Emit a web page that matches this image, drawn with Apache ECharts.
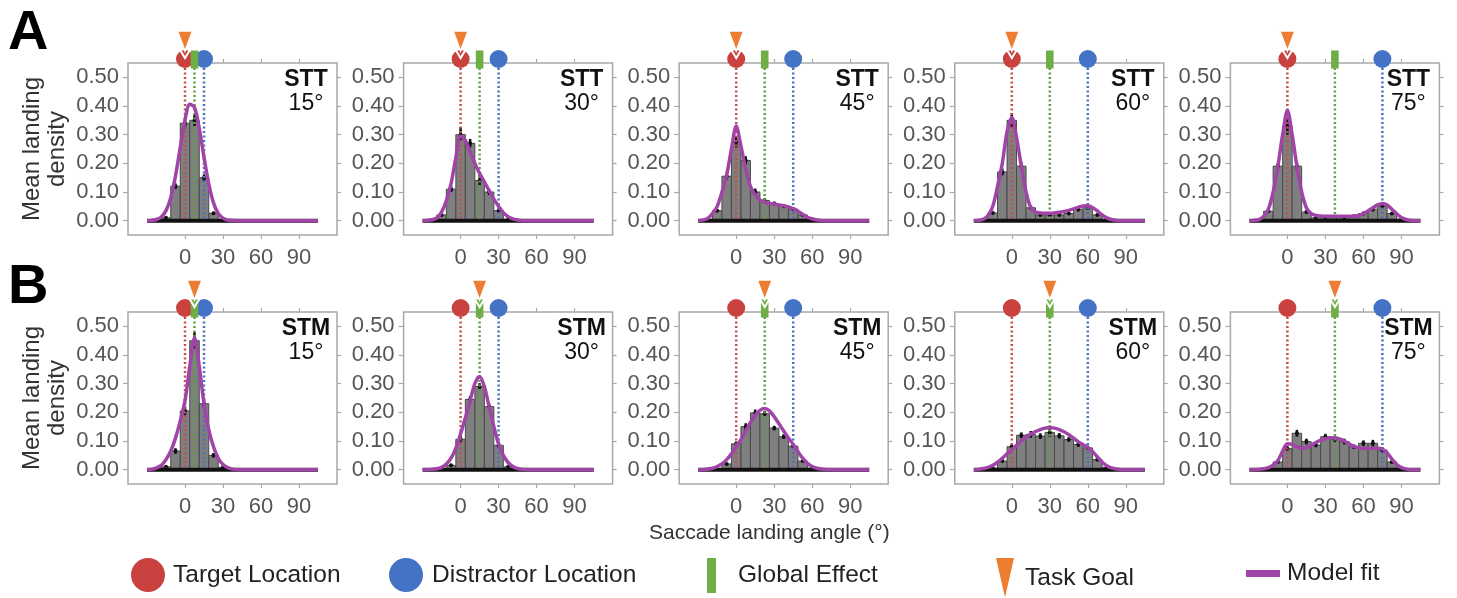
<!DOCTYPE html>
<html><head><meta charset="utf-8">
<script src="https://cdn.jsdelivr.net/npm/echarts@6/dist/echarts.min.js"></script>
<style>html,body{margin:0;padding:0;background:#fff}#c{width:1457px;height:598px}</style>
</head><body><div id="c"></div>
<script>
// ---------------- data ----------------
const ROW_LETTERS = ['A', 'B'];
const CONDITIONS = ['STT', 'STM'];
const ANGLES = [15, 30, 45, 60, 75];
const TARGET_LOC = [0, 0, 0, 0, 0];
const DISTRACTOR_LOC = [15, 30, 45, 60, 75];
const GLOBAL_EFFECT_LOC = [7.5, 15, 22.5, 30, 37.5];
const TASK_GOAL_STT = [0, 0, 0, 0, 0];
const TASK_GOAL_STM = [7.5, 15, 22.5, 30, 37.5];
const X_TICKS = [0, 30, 60, 90];
const Y_TICKS = [0, 0.1, 0.2, 0.3, 0.4, 0.5];
const BASELINE_X = [-30, 105];
const BIN_WIDTH = 7.5;
const BIN_X = [-22.5, -15, -7.5, 0, 7.5, 15, 22.5, 30, 37.5, 45, 52.5, 60, 67.5, 75, 82.5, 90];
const FIT_X = [-30, -26.25, -22.5, -18.75, -15, -11.25, -7.5, -3.75, 0, 3.75, 7.5, 11.25, 15, 18.75, 22.5, 26.25, 30, 33.75, 37.5, 41.25, 45, 48.75, 52.5, 56.25, 60, 63.75, 67.5, 71.25, 75, 78.75, 82.5, 86.25, 90, 93.75, 97.5, 101.25, 105];

const STT15_BARS = [0, 0.01, 0.12, 0.34, 0.35, 0.15, 0.026, 0.005, 0, 0, 0, 0, 0, 0, 0, 0];
const STT30_BARS = [0, 0.02, 0.11, 0.30, 0.27, 0.14, 0.10, 0.035, 0.005, 0, 0, 0, 0, 0, 0, 0];
const STT45_BARS = [0.005, 0.035, 0.155, 0.275, 0.21, 0.10, 0.07, 0.06, 0.05, 0.04, 0.02, 0.005, 0, 0, 0, 0];
const STT60_BARS = [0.003, 0.027, 0.17, 0.35, 0.19, 0.045, 0.02, 0.02, 0.02, 0.025, 0.04, 0.045, 0.02, 0.005, 0, 0];
const STT75_BARS = [0.003, 0.033, 0.19, 0.33, 0.19, 0.03, 0.01, 0.01, 0.01, 0.01, 0.015, 0.025, 0.04, 0.05, 0.025, 0.005];
const STM15_BARS = [0, 0.01, 0.065, 0.205, 0.45, 0.23, 0.05, 0.008, 0, 0, 0, 0, 0, 0, 0, 0];
const STM30_BARS = [0, 0.003, 0.015, 0.106, 0.245, 0.29, 0.22, 0.085, 0.01, 0, 0, 0, 0, 0, 0, 0];
const STM45_BARS = [0, 0.003, 0.02, 0.09, 0.15, 0.198, 0.195, 0.145, 0.115, 0.082, 0.03, 0.005, 0, 0, 0, 0];
const STM60_BARS = [0, 0.005, 0.03, 0.08, 0.12, 0.123, 0.117, 0.13, 0.118, 0.105, 0.088, 0.076, 0.035, 0.008, 0, 0];
const STM75_BARS = [0, 0.005, 0.027, 0.074, 0.127, 0.098, 0.086, 0.115, 0.106, 0.098, 0.08, 0.092, 0.092, 0.068, 0.027, 0.005];

const STT15_SE = [0, 0.003, 0.01, 0.015, 0.02, 0.012, 0.005, 0, 0, 0, 0, 0, 0, 0, 0, 0];
const STT30_SE = [0, 0.004, 0.01, 0.025, 0.015, 0.02, 0.01, 0.006, 0, 0, 0, 0, 0, 0, 0, 0];
const STT45_SE = [0, 0.005, 0.012, 0.02, 0.015, 0.012, 0.008, 0.006, 0.006, 0.006, 0.004, 0, 0, 0, 0, 0];
const STT60_SE = [0, 0.004, 0.012, 0.025, 0.015, 0.008, 0.004, 0.004, 0.004, 0.005, 0.008, 0.008, 0.004, 0, 0, 0];
const STT75_SE = [0, 0.004, 0.012, 0.03, 0.015, 0.006, 0.003, 0.003, 0.003, 0.003, 0.004, 0.006, 0.008, 0.008, 0.005, 0];
const STM15_SE = [0, 0.003, 0.01, 0.015, 0.03, 0.015, 0.008, 0.003, 0, 0, 0, 0, 0, 0, 0, 0];
const STM30_SE = [0, 0, 0.004, 0.01, 0.012, 0.012, 0.01, 0.008, 0.003, 0, 0, 0, 0, 0, 0, 0];
const STM45_SE = [0, 0, 0.004, 0.008, 0.012, 0.012, 0.01, 0.008, 0.008, 0.006, 0.004, 0, 0, 0, 0, 0];
const STM60_SE = [0, 0, 0.005, 0.008, 0.01, 0.012, 0.01, 0.015, 0.01, 0.008, 0.008, 0.008, 0.005, 0.002, 0, 0];
const STM75_SE = [0, 0, 0.005, 0.008, 0.012, 0.01, 0.008, 0.01, 0.01, 0.01, 0.008, 0.01, 0.012, 0.01, 0.005, 0];

const STT15_FIT = [0, 0.001, 0.004, 0.013, 0.035, 0.08, 0.156, 0.256, 0.351, 0.406, 0.395, 0.322, 0.221, 0.128, 0.062, 0.025, 0.009, 0.002, 0.001, 0, 0, 0, 0, 0, 0, 0, 0, 0, 0, 0, 0, 0, 0, 0, 0, 0, 0];
const STT30_FIT = [0, 0.001, 0.003, 0.01, 0.03, 0.07, 0.13, 0.22, 0.295, 0.28, 0.24, 0.2, 0.165, 0.135, 0.105, 0.075, 0.05, 0.028, 0.014, 0.006, 0.002, 0, 0, 0, 0, 0, 0, 0, 0, 0, 0, 0, 0, 0, 0, 0, 0];
const STT45_FIT = [0, 0.002, 0.008, 0.025, 0.05, 0.1, 0.16, 0.25, 0.33, 0.26, 0.18, 0.12, 0.09, 0.072, 0.065, 0.06, 0.058, 0.055, 0.052, 0.048, 0.042, 0.033, 0.022, 0.012, 0.006, 0.002, 0, 0, 0, 0, 0, 0, 0, 0, 0, 0, 0];
const STT60_FIT = [0, 0.001, 0.005, 0.018, 0.05, 0.12, 0.2, 0.31, 0.36, 0.29, 0.19, 0.1, 0.045, 0.03, 0.027, 0.026, 0.026, 0.027, 0.029, 0.032, 0.036, 0.041, 0.047, 0.051, 0.052, 0.046, 0.034, 0.02, 0.01, 0.004, 0.001, 0, 0, 0, 0, 0, 0];
const STT75_FIT = [0, 0.001, 0.004, 0.015, 0.04, 0.1, 0.19, 0.3, 0.385, 0.3, 0.19, 0.1, 0.045, 0.025, 0.018, 0.016, 0.015, 0.015, 0.015, 0.015, 0.015, 0.015, 0.015, 0.018, 0.025, 0.034, 0.045, 0.055, 0.06, 0.055, 0.04, 0.024, 0.011, 0.004, 0.001, 0, 0];
const STM15_FIT = [0, 0.001, 0.006, 0.015, 0.035, 0.065, 0.11, 0.17, 0.24, 0.36, 0.46, 0.36, 0.23, 0.14, 0.08, 0.04, 0.018, 0.007, 0.002, 0, 0, 0, 0, 0, 0, 0, 0, 0, 0, 0, 0, 0, 0, 0, 0, 0, 0];
const STM30_FIT = [0, 0, 0.001, 0.003, 0.008, 0.02, 0.04, 0.075, 0.125, 0.18, 0.24, 0.3, 0.325, 0.29, 0.22, 0.15, 0.09, 0.05, 0.025, 0.011, 0.004, 0.001, 0, 0, 0, 0, 0, 0, 0, 0, 0, 0, 0, 0, 0, 0, 0];
const STM45_FIT = [0, 0, 0.002, 0.005, 0.011, 0.02, 0.035, 0.055, 0.08, 0.105, 0.135, 0.165, 0.19, 0.207, 0.213, 0.205, 0.185, 0.16, 0.135, 0.11, 0.088, 0.063, 0.04, 0.022, 0.011, 0.005, 0.002, 0, 0, 0, 0, 0, 0, 0, 0, 0, 0];
const STM60_FIT = [0, 0.001, 0.004, 0.008, 0.015, 0.026, 0.04, 0.055, 0.07, 0.085, 0.1, 0.113, 0.124, 0.133, 0.14, 0.145, 0.147, 0.145, 0.14, 0.132, 0.122, 0.11, 0.097, 0.087, 0.077, 0.063, 0.045, 0.027, 0.014, 0.006, 0.002, 0, 0, 0, 0, 0, 0];
const STM75_FIT = [0, 0, 0.001, 0.003, 0.007, 0.016, 0.032, 0.065, 0.09, 0.088, 0.08, 0.075, 0.077, 0.085, 0.095, 0.103, 0.108, 0.111, 0.111, 0.107, 0.1, 0.09, 0.081, 0.076, 0.074, 0.074, 0.075, 0.075, 0.072, 0.058, 0.037, 0.018, 0.007, 0.002, 0, 0, 0];

const BARS = [[STT15_BARS, STT30_BARS, STT45_BARS, STT60_BARS, STT75_BARS], [STM15_BARS, STM30_BARS, STM45_BARS, STM60_BARS, STM75_BARS]];
const SES = [[STT15_SE, STT30_SE, STT45_SE, STT60_SE, STT75_SE], [STM15_SE, STM30_SE, STM45_SE, STM60_SE, STM75_SE]];
const FITS = [[STT15_FIT, STT30_FIT, STT45_FIT, STT60_FIT, STT75_FIT], [STM15_FIT, STM30_FIT, STM45_FIT, STM60_FIT, STM75_FIT]];
const GOALS = [TASK_GOAL_STT, TASK_GOAL_STM];

// ---------------- layout / style ----------------
const X_MIN = -45, X_MAX = 120, Y_MIN = -0.05, Y_MAX = 0.55;
const GRID_LEFT0 = 128, GRID_PITCH = 275.6, GRID_W = 209, GRID_H = 172;
const ROW_TOPS = [63, 312];
const FONT = "'Liberation Sans', Arial, sans-serif";
const C_RED = '#c9423f', C_BLUE = '#4472c4', C_GREEN = '#6fad46', C_ORANGE = '#ed7d31', C_PURPLE = '#a044a8';
const BORDER = '#a8a8a8';

const grids = [], xAxes = [], yAxes = [], series = [], graphics = [];

function barsRender(params, api) {
  const x = api.value(0), y = api.value(1);
  if (!(y > 0)) return;
  const p0 = api.coord([x - BIN_WIDTH / 2, y]);
  const p1 = api.coord([x + BIN_WIDTH / 2, 0]);
  return { type: 'rect', shape: { x: p0[0], y: p0[1], width: p1[0] - p0[0], height: p1[1] - p0[1] },
    style: { fill: '#7f7f7f', stroke: '#4a4a4a', lineWidth: 1 } };
}
function errRender(params, api) {
  const x = api.value(0), y = api.value(1), se = api.value(2);
  if (!(y > 0.004)) return;
  const a = api.coord([x, y - se]), b = api.coord([x, y + se]), m = api.coord([x, y]);
  return { type: 'group', children: [
    { type: 'line', shape: { x1: a[0], y1: a[1], x2: b[0], y2: b[1] }, style: { stroke: '#111', lineWidth: 2.5 } },
    { type: 'circle', shape: { cx: m[0], cy: m[1], r: 2 }, style: { fill: '#111' } }
  ] };
}
function dottedRender(color) {
  return function (params, api) {
    const x = api.value(0);
    const t = api.coord([x, Y_MAX]), b = api.coord([x, 0]);
    return { type: 'line', shape: { x1: t[0], y1: t[1] - 4, x2: b[0], y2: b[1] },
      style: { stroke: color, lineWidth: 2.5, lineDash: [2, 2.5] } };
  };
}
function circleRender(color) {
  return function (params, api) {
    const t = api.coord([api.value(0), Y_MAX]);
    return { type: 'circle', shape: { cx: t[0], cy: t[1] - 4, r: 9 }, style: { fill: color } };
  };
}
function rectRender(params, api) {
  const t = api.coord([api.value(0), Y_MAX]);
  return { type: 'rect', shape: { x: t[0] - 3.8, y: t[1] - 12.5, width: 7.6, height: 18 }, style: { fill: C_GREEN } };
}
function goalRender(params, api) {
  const t = api.coord([api.value(0), Y_MAX]);
  const px = t[0], top = t[1];
  return { type: 'group', children: [
    { type: 'polyline', shape: { points: [[px - 5.5, top - 14], [px, top - 5], [px + 5.5, top - 14]] },
      style: { stroke: '#fff', lineWidth: 2, fill: null } },
    { type: 'polygon', shape: { points: [[px - 7.5, top - 32], [px + 7.5, top - 32], [px, top - 12]] },
      style: { fill: C_ORANGE, stroke: '#fff', lineWidth: 1.5 } }
  ] };
}

let k = 0;
for (let r = 0; r < 2; r++) {
  for (let c = 0; c < 5; c++) {
    const left = GRID_LEFT0 + c * GRID_PITCH, top = ROW_TOPS[r];
    grids.push({ left: left, top: top, width: GRID_W, height: GRID_H, show: true, borderColor: BORDER, borderWidth: 1.5,
      backgroundColor: 'transparent', containLabel: false, outerBoundsMode: 'none' });
    const tickStyle = { color: BORDER, width: 1.2 };
    xAxes.push({ gridIndex: k, type: 'value', position: 'bottom', min: X_MIN, max: X_MAX,
      axisLine: { show: false, onZero: false }, splitLine: { show: false },
      axisTick: { show: true, customValues: X_TICKS, length: 4, lineStyle: tickStyle },
      axisLabel: { show: true, customValues: X_TICKS, fontSize: 22, color: '#555', margin: 12, fontFamily: FONT } });
    xAxes.push({ gridIndex: k, type: 'value', position: 'top', min: X_MIN, max: X_MAX,
      axisLine: { show: false, onZero: false }, splitLine: { show: false },
      axisTick: { show: true, customValues: X_TICKS, length: 4, lineStyle: tickStyle },
      axisLabel: { show: false } });
    const yMain = { gridIndex: k, type: 'value', position: 'left', min: Y_MIN, max: Y_MAX,
      axisLine: { show: false, onZero: false }, splitLine: { show: false },
      axisTick: { show: true, customValues: Y_TICKS, length: 5, lineStyle: tickStyle },
      axisLabel: { show: true, customValues: Y_TICKS, fontSize: 22, color: '#555', margin: 9, fontFamily: FONT,
        formatter: v => v.toFixed(2) } };
    if (c === 0) {
      Object.assign(yMain, { name: 'Mean landing\ndensity', nameLocation: 'middle', nameGap: 58, nameRotate: 90,
        nameTextStyle: { fontSize: 24, color: '#333', lineHeight: 25, fontFamily: FONT } });
    }
    yAxes.push(yMain);
    yAxes.push({ gridIndex: k, type: 'value', position: 'right', min: Y_MIN, max: Y_MAX,
      axisLine: { show: false, onZero: false }, splitLine: { show: false },
      axisTick: { show: true, customValues: Y_TICKS, length: 4, lineStyle: tickStyle },
      axisLabel: { show: false } });

    const xi = 2 * k, yi = 2 * k;
    const bars = BARS[r][c], se = SES[r][c], fit = FITS[r][c];
    series.push({ type: 'custom', xAxisIndex: xi, yAxisIndex: yi, z: 2, silent: true, clip: true,
      renderItem: barsRender, data: BIN_X.map((x, i) => [x, bars[i]]) });
    series.push({ type: 'custom', xAxisIndex: xi, yAxisIndex: yi, z: 3, silent: true, clip: true,
      renderItem: errRender, data: BIN_X.map((x, i) => [x, bars[i], se[i]]) });
    series.push({ type: 'line', xAxisIndex: xi, yAxisIndex: yi, z: 3, silent: true, symbol: 'none',
      lineStyle: { color: '#111', width: 4 }, data: BASELINE_X.map(x => [x, 0]) });
    series.push({ type: 'custom', xAxisIndex: xi, yAxisIndex: yi, z: 4, silent: true, renderItem: dottedRender('#c0504d'), data: [[TARGET_LOC[c]]] });
    series.push({ type: 'custom', xAxisIndex: xi, yAxisIndex: yi, z: 4, silent: true, renderItem: dottedRender('#5fa040'), data: [[GLOBAL_EFFECT_LOC[c]]] });
    series.push({ type: 'custom', xAxisIndex: xi, yAxisIndex: yi, z: 4, silent: true, renderItem: dottedRender('#4a72c0'), data: [[DISTRACTOR_LOC[c]]] });
    series.push({ name: 'Model fit', type: 'line', xAxisIndex: xi, yAxisIndex: yi, z: 5, silent: true, symbol: 'none',
      smooth: 0.3, color: C_PURPLE, lineStyle: { color: C_PURPLE, width: 3.5 }, data: FIT_X.map((x, i) => [x, fit[i]]) });
    series.push({ name: 'Target Location', type: 'custom', xAxisIndex: xi, yAxisIndex: yi, z: 6, silent: true, clip: false,
      itemStyle: { color: C_RED }, renderItem: circleRender(C_RED), data: [[TARGET_LOC[c]]] });
    series.push({ name: 'Distractor Location', type: 'custom', xAxisIndex: xi, yAxisIndex: yi, z: 6, silent: true, clip: false,
      itemStyle: { color: C_BLUE }, renderItem: circleRender(C_BLUE), data: [[DISTRACTOR_LOC[c]]] });
    series.push({ name: 'Global Effect', type: 'custom', xAxisIndex: xi, yAxisIndex: yi, z: 6, silent: true, clip: false,
      itemStyle: { color: C_GREEN }, renderItem: rectRender, data: [[GLOBAL_EFFECT_LOC[c]]] });
    series.push({ name: 'Task Goal', type: 'custom', xAxisIndex: xi, yAxisIndex: yi, z: 7, silent: true, clip: false,
      itemStyle: { color: C_ORANGE }, renderItem: goalRender, data: [[GOALS[r][c]]] });

    graphics.push({ type: 'text', x: left + GRID_W - 31, y: top + 5, z: 10, silent: true,
      style: { text: '{b|' + CONDITIONS[r] + '}\n{n|' + ANGLES[c] + '°}', align: 'center', verticalAlign: 'top',
        rich: { b: { fontSize: 23, fontWeight: 'bold', lineHeight: 24, fill: '#111', fontFamily: FONT, align: 'center' },
                n: { fontSize: 23, lineHeight: 24, fill: '#111', fontFamily: FONT, align: 'center' } } } });
    k++;
  }
}

const legendText = { fontSize: 24.5, color: '#222', fontFamily: FONT };
const legends = [
  { left: 131, top: 558, itemWidth: 34, itemHeight: 34, data: [{ name: 'Target Location', icon: 'circle', itemStyle: { color: C_RED } }], textStyle: Object.assign({ padding: [0, 0, 0, 3] }, legendText) },
  { left: 389, top: 558, itemWidth: 34, itemHeight: 34, data: [{ name: 'Distractor Location', icon: 'circle', itemStyle: { color: C_BLUE } }], textStyle: Object.assign({ padding: [0, 0, 0, 4] }, legendText) },
  { left: 707, top: 558, itemWidth: 9, itemHeight: 35, data: [{ name: 'Global Effect', icon: 'rect', itemStyle: { color: C_GREEN } }], textStyle: Object.assign({ padding: [0, 0, 0, 17] }, legendText) },
  { left: 996, top: 558, itemWidth: 18, itemHeight: 41, data: [{ name: 'Task Goal', icon: 'path://M0,0L10,0L5,22Z', itemStyle: { color: C_ORANGE } }], textStyle: Object.assign({ padding: [0, 0, 0, 6] }, legendText) },
  { left: 1246, top: 561, itemWidth: 34, itemHeight: 7, data: [{ name: 'Model fit', icon: 'rect', itemStyle: { color: C_PURPLE } }], textStyle: Object.assign({ padding: [0, 0, 0, 2] }, legendText) }
].map(l => Object.assign({ orient: 'horizontal', selectedMode: false, padding: 0, itemStyle: { borderWidth: 0 } }, l));

const option = {
  animation: false,
  backgroundColor: '#fff',
  title: [
    { text: ROW_LETTERS[0], left: 8, top: 6, padding: 0, textStyle: { fontSize: 56, fontWeight: 'bold', color: '#000', fontFamily: FONT } },
    { text: ROW_LETTERS[1], left: 8, top: 260, padding: 0, textStyle: { fontSize: 56, fontWeight: 'bold', color: '#000', fontFamily: FONT } },
    { text: 'Saccade landing angle (°)', left: 649, top: 523, padding: 0, textStyle: { fontSize: 21, fontWeight: 'normal', color: '#333', fontFamily: FONT } }
  ],
  legend: legends,
  grid: grids,
  xAxis: xAxes,
  yAxis: yAxes,
  series: series,
  graphic: graphics
};
const chart = echarts.init(document.getElementById('c'));
chart.setOption(option);
</script>
</body></html>
